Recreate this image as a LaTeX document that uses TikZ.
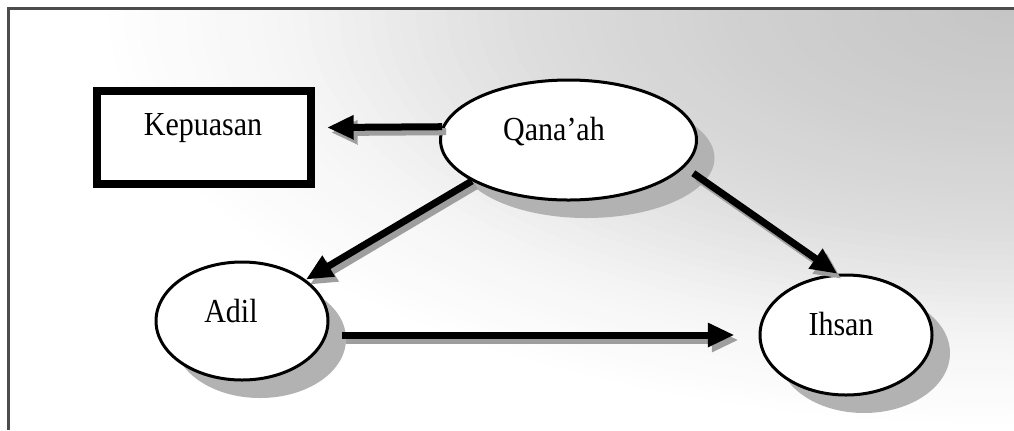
\documentclass[tikz,border=0pt]{standalone}
\usepackage{fontspec}
\usepackage{graphicx}
\setmainfont{Liberation Serif}
\usetikzlibrary{shapes.geometric,arrows.meta,shadows}
\newcommand\tallt[1]{\scalebox{1}[1.12]{#1}}
\begin{document}
\begin{tikzpicture}[x=0.75pt,y=-0.75pt,
  lbl/.style={font=\fontsize{22.5}{26}\selectfont, anchor=base, inner sep=0},
  oval/.style={ellipse, draw=black, line width=2.25pt, fill=white, inner sep=0,
    drop shadow={shadow xshift=13.5pt, shadow yshift=-13.5pt, fill=black!30, opacity=1}},
  arr/.style={line width=5.25pt, -{Triangle[length=20pt,width=17pt]}},
  arrsh/.style={arr, draw=black!38, transform canvas={shift={(4,5)}}}
]
\useasboundingbox (0,0) rectangle (1014,430);
\fill[white] (0,0) rectangle (1014,430);
\begin{scope}
  \clip (8,8) rectangle (1014,430);
  \foreach \n in {60,59,...,1} {
    \pgfmathsetmacro\rr{(\n-0.5)/60}
    \pgfmathsetmacro\pc{\rr<0.29 ? 22.7-14.8*\rr : (\rr<0.53 ? 18.4-21.25*(\rr-0.29) : (\rr<0.79 ? 13.3-36.2*(\rr-0.53) : max(0,3.9-18.6*(\rr-0.79))))}
    \pgfmathsetmacro\rx{15.333*\n}
    \pgfmathsetmacro\ry{7*\n}
    \fill[black!\pc] (1014,10) ellipse [x radius=\rx, y radius=\ry];
  }
\end{scope}
\draw[black!70, line width=1.9pt] (8.5,430) -- (8.5,8.5) -- (1014,8.5);

\node[rectangle, draw=black, line width=6pt, fill=white, minimum width=160.5pt,
  minimum height=69.75pt, inner sep=0] (k) at (204,137.5) {};
\node[lbl] (kl) at (203,135) {\tallt{Kepuasan}};

\node[oval, minimum width=192pt, minimum height=90pt] (q) at (568.5,140) {};
\node[lbl] (ql) at (554,140) {\tallt{Qana’ah}};

\node[oval, minimum width=129pt, minimum height=88.5pt] (a) at (242,321) {};
\node[lbl] (al) at (231,322) {\tallt{Adil}};

\node[oval, minimum width=129pt, minimum height=90pt] (i) at (846,335) {};
\node[lbl] (il) at (841,335) {\tallt{Ihsan}};

\draw[arrsh] (q.174) -- ([shift={(12,-10)}]k.east);
\draw[arrsh] (q.203) -- (a.33);
\draw[arrsh] ([shift={(12,3)}]q.345) -- (i.98);
\draw[arrsh] ([shift={(12,14)}]a.east) -- ([shift={(-24,0)}]i.west);

\draw[arr] (q.174) -- ([shift={(12,-10)}]k.east);
\draw[arr] (q.203) -- (a.33);
\draw[arr] ([shift={(12,3)}]q.345) -- (i.98);
\draw[arr] ([shift={(12,14)}]a.east) -- ([shift={(-24,0)}]i.west);
\end{tikzpicture}
\end{document}
